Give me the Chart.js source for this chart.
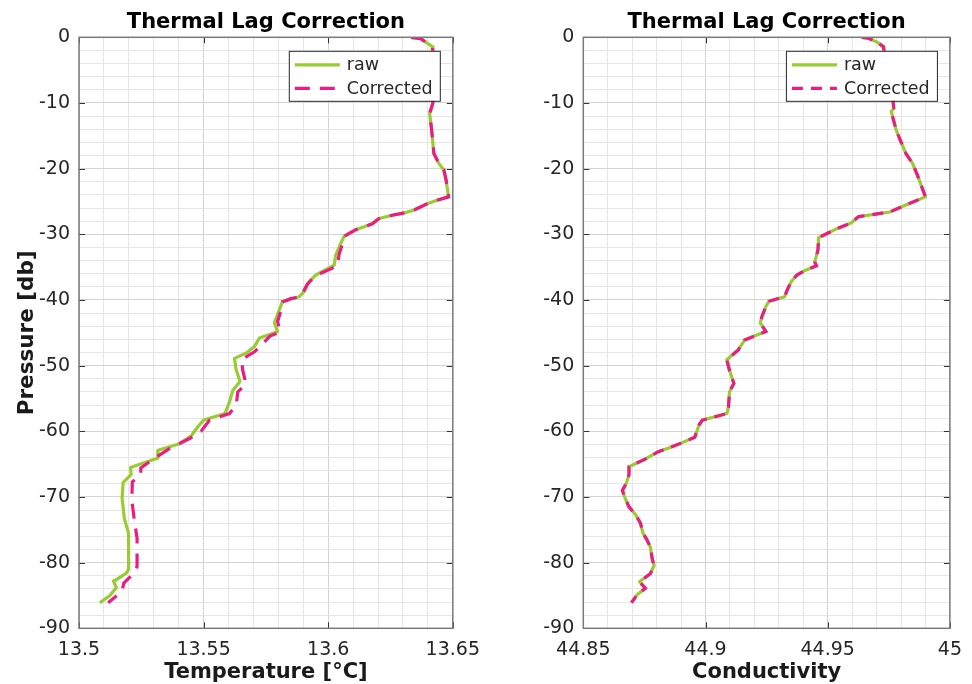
<!DOCTYPE html>
<html>
<head>
<meta charset="utf-8">
<title>Thermal Lag Correction</title>
<script src="https://cdn.jsdelivr.net/npm/chart.js@4.4.1/dist/chart.umd.min.js"></script>
<style>
  html, body { margin: 0; padding: 0; background: #fff; }
  #wrap { position: relative; width: 972px; height: 684px; overflow: hidden; background: #fff; }
  canvas { position: absolute; top: 0; }
  #tempChart { left: 0; }
  #condChart { left: 490px; }
</style>
</head>
<body>
<div id="wrap">
  <canvas id="tempChart" width="490" height="684"></canvas>
  <canvas id="condChart" width="482" height="684"></canvas>
</div>
<script>
// Labelled tick values
const pressureTicks = [-90, -80, -70, -60, -50, -40, -30, -20, -10, 0];
const temperatureTicks = [13.5, 13.55, 13.6, 13.65];
const conductivityTicks = [44.85, 44.9, 44.95, 45];

// Temperature profile - raw
const tempRawP = [0, -0.2, -1.4, -2.0, -10.0, -11.6, -14.1, -17.7, -19.2, -20.2, -21.7, -24.3, -24.9, -25.4, -26.3, -26.7, -27.1, -27.6, -28.4, -29.3,
  -30.3, -31.4, -33.2, -34.7, -35.4, -36.2, -37.2, -38.7, -39.5, -40.2, -41.5, -43.5, -44.8, -45.2, -45.8, -47.1, -48.1, -48.9, -50.5, -52.4,
  -53.8, -55.5, -57.3, -58.3, -59.3, -60.6, -61.9, -62.9, -64.1, -64.5, -65.5, -66.6, -67.8, -70.2, -73.3, -75.5, -81.0, -81.6, -82.6, -82.8,
  -83.8, -85.0, -86.1];
const tempRawT = [13.6333, 13.6371, 13.6417, 13.6420, 13.6420, 13.6407, 13.6415, 13.6424, 13.6444, 13.6464, 13.6473, 13.6483, 13.6430, 13.6395, 13.6345, 13.6310, 13.6257, 13.6204, 13.6177, 13.6111,
  13.6064, 13.6050, 13.6030, 13.6024, 13.5990, 13.5950, 13.5924, 13.5904, 13.5884, 13.5817, 13.5804, 13.5784, 13.5797, 13.5770, 13.5724, 13.5704, 13.5670, 13.5624, 13.5630, 13.5646,
  13.5617, 13.5604, 13.5586, 13.5500, 13.5477, 13.5452, 13.5404, 13.5317, 13.5316, 13.5284, 13.5207, 13.5209, 13.5177, 13.5173, 13.5182, 13.5199, 13.5199, 13.5190, 13.5150, 13.5138,
  13.5150, 13.5124, 13.5084];

// Temperature profile - corrected
const tempCorrP = [0, -0.2, -1.4, -2.0, -10.0, -11.6, -14.1, -17.7, -19.2, -20.2, -21.7, -24.3, -24.9, -25.4, -26.3, -26.7, -27.1, -27.6, -28.4, -29.3,
  -30.3, -31.5, -33.0, -34.8, -35.5, -36.3, -37.6, -39.5, -39.8, -40.3, -41.5, -43.3, -44.9, -45.5, -46.9, -47.9, -49.1, -50.7, -52.8, -54.0,
  -56.0, -57.3, -58.3, -60.0, -61.1, -62.6, -64.6, -65.6, -66.6, -67.7, -70.5, -73.5, -76.3, -80.6, -81.6, -83.1, -84.4, -86.1];
const tempCorrT = [13.6333, 13.6371, 13.6417, 13.6420, 13.6420, 13.6407, 13.6415, 13.6424, 13.6444, 13.6464, 13.6473, 13.6483, 13.6430, 13.6395, 13.6345, 13.6310, 13.6257, 13.6204, 13.6177, 13.6111,
  13.6064, 13.6057, 13.6044, 13.6037, 13.5997, 13.5950, 13.5916, 13.5890, 13.5850, 13.5817, 13.5811, 13.5797, 13.5808, 13.5766, 13.5731, 13.5704, 13.5652, 13.5657, 13.5670, 13.5637,
  13.5631, 13.5604, 13.5524, 13.5490, 13.5444, 13.5364, 13.5284, 13.5248, 13.5248, 13.5214, 13.5212, 13.5222, 13.5233, 13.5233, 13.5220, 13.5180, 13.5172, 13.5117];

// Conductivity profile - raw
const condRawP = [0, -0.15, -0.7, -1.4, -1.9, -9.5, -10.8, -11.3, -14.1, -15.6, -17.7, -19.2, -21.0, -24.3, -25.3, -26.6, -27.3, -28.3, -29.1, -30.5,
  -32.4, -34.2, -34.8, -35.5, -36.2, -37.2, -38.5, -39.5, -40.2, -41.0, -42.5, -43.5, -44.8, -45.5, -46.1, -47.6, -49.1, -50.7, -52.7, -54.0,
  -56.3, -57.3, -57.7, -58.3, -59.0, -60.9, -61.8, -62.4, -63.1, -64.1, -65.4, -66.6, -67.9, -69.0, -70.2, -71.5, -72.7, -74.0, -75.5, -76.5,
  -77.6, -79.6, -80.4, -81.7, -82.9, -83.9, -84.9, -86.1];
const condRawC = [44.9640, 44.9667, 44.9700, 44.9727, 44.9730, 44.9767, 44.9770, 44.9760, 44.9780, 44.9796, 44.9820, 44.9847, 44.9867, 44.9900, 44.9834, 44.9754, 44.9627, 44.9594, 44.9540, 44.9463,
  44.9460, 44.9447, 44.9454, 44.9407, 44.9374, 44.9351, 44.9334, 44.9324, 44.9260, 44.9247, 44.9231, 44.9224, 44.9247, 44.9200, 44.9160, 44.9134, 44.9087, 44.9098, 44.9116, 44.9098,
  44.9094, 44.9087, 44.9047, 44.8987, 44.8974, 44.8956, 44.8900, 44.8860, 44.8807, 44.8760, 44.8687, 44.8687, 44.8676, 44.8660, 44.8671, 44.8687, 44.8714, 44.8734, 44.8744, 44.8760,
  44.8774, 44.8783, 44.8790, 44.8774, 44.8730, 44.8754, 44.8720, 44.8697];

// Conductivity profile - corrected (lies on top of raw)
const condCorrP = condRawP.slice();
const condCorrC = condRawC.slice();

const GREEN = '#99CC33';
const PINK = '#EC1C83';

Chart.defaults.font.family = "'DejaVu Sans', sans-serif";
Chart.defaults.color = '#262626';

function toPoints(xs, ys) {
    return xs.map((x, i) => ({ x: x, y: ys[i] }));
}

// Labelled ticks plus minor subdivisions between each pair
function withMinor(majors, parts) {
    const m = majors.slice().sort((a, b) => a - b);
    const out = [];
    for (let i = 0; i < m.length - 1; i++) {
        for (let k = 0; k < parts; k++) {
            out.push(m[i] + (m[i + 1] - m[i]) * k / parts);
        }
    }
    out.push(m[m.length - 1]);
    return out;
}

function isMajor(v, majors) {
    return majors.some(m => Math.abs(m - v) < 1e-9);
}

function fmt(v) {
    return String(Number(v.toFixed(4)));
}

// Box around the axes, inward tick marks and the legend
const framePlugin = {
    id: 'frame',
    afterDatasetsDraw(chart) {
        const { ctx, chartArea: a, scales } = chart;
        const cfg = chart.options.plugins.frame;
        ctx.save();

        // inward tick marks at labelled values
        ctx.strokeStyle = '#333';
        ctx.lineWidth = 1;
        const tl = 6;
        ctx.beginPath();
        cfg.xMajors.forEach(v => {
            const x = Math.round(scales.x.getPixelForValue(v)) + 0.5;
            ctx.moveTo(x, a.bottom); ctx.lineTo(x, a.bottom - tl);
            ctx.moveTo(x, a.top); ctx.lineTo(x, a.top + tl);
        });
        cfg.yMajors.forEach(v => {
            const y = Math.round(scales.y.getPixelForValue(v)) + 0.5;
            ctx.moveTo(a.left, y); ctx.lineTo(a.left + tl, y);
            ctx.moveTo(a.right, y); ctx.lineTo(a.right - tl, y);
        });
        ctx.stroke();

        // axes box
        ctx.strokeStyle = '#7a7a7a';
        ctx.lineWidth = 1.5;
        ctx.strokeRect(a.left, a.top, a.right - a.left, a.bottom - a.top);

        // legend
        const bw = 151, bh = 50;
        const bx = a.right - 13 - bw;
        const by = a.top + 13.5;
        ctx.fillStyle = '#fff';
        ctx.fillRect(bx, by, bw, bh);
        ctx.strokeStyle = '#262626';
        ctx.lineWidth = 1;
        ctx.strokeRect(bx + 0.5, by + 0.5, bw, bh);
        ctx.font = "17.5px 'DejaVu Sans', sans-serif";
        ctx.textBaseline = 'middle';
        ctx.textAlign = 'left';
        chart.data.datasets.forEach((ds, i) => {
            const y = by + 14 + i * 23.5;
            ctx.strokeStyle = ds.borderColor;
            ctx.lineWidth = ds.borderWidth;
            ctx.setLineDash(ds.borderDash || []);
            ctx.beginPath();
            ctx.moveTo(bx + 6, y);
            ctx.lineTo(bx + 51, y);
            ctx.stroke();
            ctx.setLineDash([]);
            ctx.fillStyle = '#262626';
            ctx.fillText(ds.label, bx + 58, y + 1);
        });
        ctx.restore();
    }
};

function buildChart(canvasId, cfg) {
    const gridColor = majors => ctx =>
        (ctx.tick && isMajor(ctx.tick.value, majors)) ? '#d4d4d4' : '#e6e6e6';

    return new Chart(document.getElementById(canvasId), {
        type: 'scatter',
        data: {
            datasets: [
                {
                    label: 'raw',
                    data: toPoints(cfg.rawX, cfg.rawY),
                    showLine: true,
                    borderColor: GREEN,
                    backgroundColor: GREEN,
                    borderWidth: 3.2,
                    borderJoinStyle: 'round',
                    pointRadius: 0,
                    order: 2
                },
                {
                    label: 'Corrected',
                    data: toPoints(cfg.corrX, cfg.corrY),
                    showLine: true,
                    borderColor: PINK,
                    backgroundColor: PINK,
                    borderWidth: 3.2,
                    borderDash: cfg.dash,
                    pointRadius: 0,
                    order: 1
                }
            ]
        },
        options: {
            responsive: false,
            animation: false,
            events: [],
            layout: { padding: { left: 0, right: cfg.padRight, top: 0, bottom: 0 } },
            plugins: {
                legend: { display: false },
                tooltip: { enabled: false },
                title: {
                    display: true,
                    text: 'Thermal Lag Correction',
                    fullSize: false,
                    color: '#000',
                    font: { size: 21, weight: 'bold', lineHeight: 1.2 },
                    padding: { top: 10, bottom: 2.1 }
                },
                frame: { xMajors: cfg.xTicks, yMajors: pressureTicks }
            },
            scales: {
                x: {
                    type: 'linear',
                    position: 'bottom',
                    min: Math.min(...cfg.xTicks),
                    max: Math.max(...cfg.xTicks),
                    afterBuildTicks: s => { s.ticks = withMinor(cfg.xTicks, 5).map(v => ({ value: v })); },
                    afterFit: s => { s.height = 55.7; },
                    ticks: {
                        autoSkip: false,
                        maxRotation: 0,
                        minRotation: 0,
                        padding: 10,
                        color: '#262626',
                        font: { size: 19 },
                        callback: v => isMajor(v, cfg.xTicks) ? fmt(v) : ''
                    },
                    grid: { drawTicks: false, color: gridColor(cfg.xTicks), lineWidth: 1 },
                    border: { display: false },
                    title: {
                        display: true,
                        text: cfg.xTitle,
                        color: '#1a1a1a',
                        font: { size: 21, weight: 'bold', lineHeight: 1 },
                        padding: { top: 0, bottom: 1 }
                    }
                },
                y: {
                    type: 'linear',
                    position: 'left',
                    min: -90,
                    max: 0,
                    afterBuildTicks: s => { s.ticks = withMinor(pressureTicks, 5).map(v => ({ value: v })); },
                    afterFit: s => { s.width = cfg.plotLeft; },
                    ticks: {
                        autoSkip: false,
                        padding: 9,
                        color: '#262626',
                        font: { size: 19 },
                        callback: v => isMajor(v, pressureTicks) ? fmt(v) : ''
                    },
                    grid: { drawTicks: false, color: gridColor(pressureTicks), lineWidth: 1 },
                    border: { display: false },
                    title: {
                        display: cfg.yTitle !== '',
                        text: cfg.yTitle,
                        color: '#1a1a1a',
                        font: { size: 21.5, weight: 'bold', lineHeight: 1 },
                        padding: { top: 16.3, bottom: 0 }
                    }
                }
            }
        },
        plugins: [framePlugin]
    });
}

// Left panel: temperature
buildChart('tempChart', {
    rawX: tempRawT, rawY: tempRawP,
    corrX: tempCorrT, corrY: tempCorrP,
    xTicks: temperatureTicks,
    xTitle: 'Temperature [°C]',
    yTitle: 'Pressure [db]',
    plotLeft: 79,
    padRight: 35.5,
    dash: [15, 10]
});

// Right panel: conductivity
buildChart('condChart', {
    rawX: condRawC, rawY: condRawP,
    corrX: condCorrC, corrY: condCorrP,
    xTicks: conductivityTicks,
    xTitle: 'Conductivity',
    yTitle: '',
    plotLeft: 93.3,
    padRight: 13.7,
    dash: [11, 8]
});
</script>
</body>
</html>
